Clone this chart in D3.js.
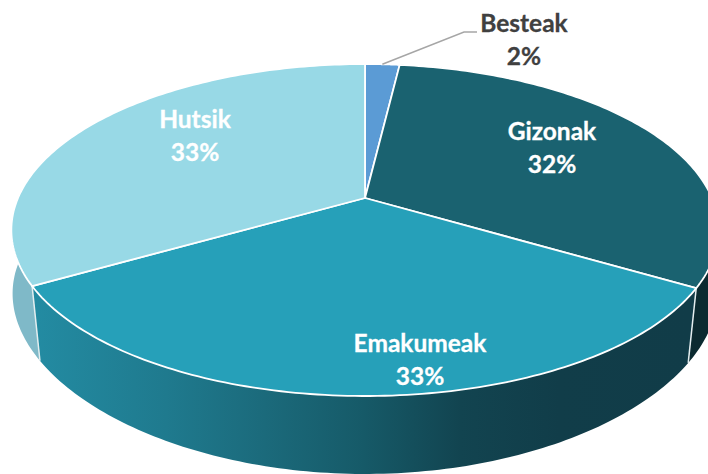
<!DOCTYPE html>
<html><head><meta charset="utf-8">
<script src="https://cdnjs.cloudflare.com/ajax/libs/d3/7.8.5/d3.min.js"></script>
<style>html,body{margin:0;padding:0;background:#fff}svg{display:block}text{font-family:Lato,"Noto Sans",sans-serif;font-weight:700;text-anchor:middle}</style>
</head><body><svg id="c" width="708" height="474"></svg>
<script>
const categories = ["Besteak","Gizonak","Emakumeak","Hutsik"];
const shares = [1.9,31.6,33.2,33.3];
const topColors = ["#5b9bd5","#1a6270","#26a0b9","#98d9e6"];
const sideColors = ["#3a6a96","#0b2a30","url(#front)","#7fb9c8"];
const labelColors = ["#404040","#ffffff","#ffffff","#ffffff"];
const labelAnchors = [[524,32],[552,140],[420,352],[195,128]];

const svg = d3.select("#c");
const cx=365, cy=198, A=159.8, B=347, k=0.193;
const sy=1.03, y0=270;
const project = (a,r=1)=>{
  const u=r*Math.sin(a), v=r*Math.cos(a), w=1+k*v;
  return [cx+B*u/w, cy-A*v/w];
};
const lower = p=>{
  const s=0.995-0.00033*(p[1]-230);
  return [cx+s*(p[0]-cx), y0+sy*(p[1]-cy)];
};
const arcs = d3.pie().sort(null).value(d=>d)(shares);
const line = d3.line();
const samples=(a0,a1)=>d3.range(0,121).map(i=>a0+(a1-a0)*i/120);

const grad=svg.append("defs").append("linearGradient").attr("id","front")
  .attr("gradientUnits","userSpaceOnUse").attr("x1",36).attr("x2",690).attr("y1",0).attr("y2",0);
[[0,"#238ba2"],[0.2,"#1f7a8e"],[0.35,"#1b6a7b"],[0.5,"#165a68"],[0.65,"#124450"],[0.8,"#113d49"],[1,"#113c48"]]
  .forEach(s=>grad.append("stop").attr("offset",s[0]).attr("stop-color",s[1]));

[0,1,3,2].forEach(i=>{
  const d=arcs[i];
  const rim=samples(d.startAngle,d.endAngle).map(a=>project(a));
  const bottom=rim.map(lower).reverse();
  svg.append("path").attr("d",line(rim.concat(bottom))+"Z").attr("fill",sideColors[i]);
});
[arcs[1].endAngle,arcs[2].endAngle].forEach(a=>{
  const p=project(a);
  svg.append("path").attr("d",line([p,lower(p)])).attr("stroke","#e4eef0").attr("stroke-width",1.5).attr("fill","none");
});
arcs.forEach((d,i)=>{
  const pts=[[cx,cy]].concat(samples(d.startAngle,d.endAngle).map(a=>project(a)));
  svg.append("path").attr("d",line(pts)+"Z").attr("fill",topColors[i])
    .attr("stroke","#ffffff").attr("stroke-width",1.8).attr("stroke-linejoin","round");
});
const mid=(arcs[0].startAngle+arcs[0].endAngle)/2;
svg.append("path").attr("d",line([project(mid),[464,32],[477,32]]))
  .attr("fill","none").attr("stroke","#a6a6a6").attr("stroke-width",1.5);
categories.forEach((c,i)=>{
  const [x,y]=labelAnchors[i];
  const t=svg.append("text").attr("fill",labelColors[i]).attr("font-size",24.5)
    .attr("stroke",labelColors[i]).attr("stroke-width",0.3);
  t.append("tspan").attr("x",x).attr("y",y).text(c);
  t.append("tspan").attr("x",x).attr("y",y+33).text(d3.format(".0f")(shares[i])+"%");
});
</script></body></html>
